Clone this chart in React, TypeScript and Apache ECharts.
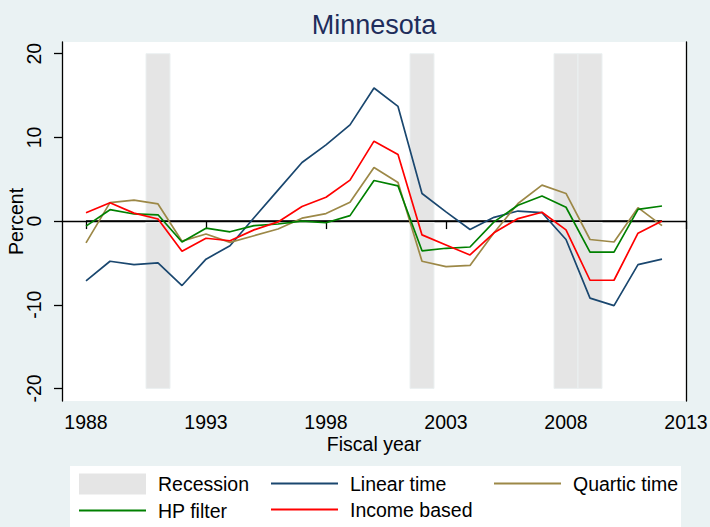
import React, { useEffect, useRef } from "react";
import * as echarts from "echarts";

const years = [1988, 1989, 1990, 1991, 1992, 1993, 1994, 1995, 1996, 1997, 1998, 1999, 2000, 2001, 2002, 2003, 2004, 2005, 2006, 2007, 2008, 2009, 2010, 2011, 2012];
const linearTime = [-7.15, -4.8, -5.2, -5.0, -7.7, -4.55, -2.95, 0.4, 3.7, 7.0, 9.1, 11.5, 15.9, 13.7, 3.3, 1.1, -1.0, 0.45, 1.2, 1.0, -2.2, -9.2, -10.1, -5.2, -4.55];
const quarticTime = [-2.6, 2.2, 2.5, 2.05, -2.4, -1.55, -2.55, -1.75, -0.95, 0.35, 0.9, 2.25, 6.4, 4.6, -4.8, -5.45, -5.3, -1.4, 2.1, 4.3, 3.3, -2.2, -2.5, 1.6, -0.55];
const hpFilter = [-0.6, 1.36, 0.85, 0.75, -2.5, -0.85, -1.28, -0.55, -0.35, 0.0, -0.2, 0.65, 4.85, 4.2, -3.55, -3.25, -3.1, -0.1, 1.9, 3.0, 1.65, -3.7, -3.7, 1.4, 1.8];
const incomeBased = [1.0, 2.2, 0.95, 0.25, -3.6, -2.05, -2.35, -1.05, -0.1, 1.75, 2.85, 4.9, 9.55, 7.95, -1.65, -2.85, -4.05, -1.4, 0.3, 1.05, -1.05, -7.07, -7.07, -1.45, 0.0];
const zeroLine = [0, 0, 0, 0, 0, 0, 0, 0, 0, 0, 0, 0, 0, 0, 0, 0, 0, 0, 0, 0, 0, 0, 0, 0, 0];
const recessionYears = [1991, 2002, 2008, 2009];
const recessionHigh = [20, 20, 20, 20];
const recessionLow = [-20, -20, -20, -20];
const xTickLabels = [1988, 1993, 1998, 2003, 2008, 2013];
const yTickLabels = [-20, -10, 0, 10, 20];

const FONT = "'Liberation Sans', Arial, sans-serif";

export default function App() {
  const ref = useRef<HTMLDivElement>(null);
  useEffect(() => {
    document.body.style.margin = "0";
    const chart = echarts.init(ref.current!, null, { renderer: "svg" });
    const pair = (arr: number[]) => years.map((y, i) => [y, arr[i]]);
    const lineSeries = (name: string, arr: number[], color: string, width = 1.7) => ({
      name,
      type: "line",
      data: pair(arr),
      symbol: "none",
      lineStyle: { color, width },
      itemStyle: { color },
      z: 3,
    });
    const lineItem = (name: string) => ({ name, itemStyle: { opacity: 0 } });
    const legendCommon = {
      orient: "vertical",
      padding: 0,
      itemGap: 6,
      itemWidth: 67,
      itemHeight: 21,
      textStyle: { fontSize: 19.5, color: "#000", fontFamily: FONT, padding: [0, 0, 0, 7] },
    };
    chart.setOption({
      animation: false,
      backgroundColor: "#EAF2F3",
      textStyle: { fontFamily: FONT },
      title: {
        text: "Minnesota",
        left: 369,
        top: 6,
        textAlign: "center",
        textStyle: { fontSize: 27, fontWeight: "normal", color: "#1E2D5B", fontFamily: FONT },
      },
      graphic: [
        { type: "rect", shape: { x: 70, y: 466, width: 611, height: 70 }, style: { fill: "#fff" }, z: 0 },
      ],
      grid: {
        left: 62, right: 24, top: 42, bottom: 126,
        outerBoundsMode: "none", containLabel: false,
        show: true, backgroundColor: "#fff", borderWidth: 0,
      },
      xAxis: {
        type: "value",
        min: 1987,
        max: 2013,
        name: "Fiscal year",
        nameLocation: "middle",
        nameGap: 33,
        nameMoveOverlap: false,
        nameTextStyle: { fontSize: 19.5, color: "#000", fontFamily: FONT },
        axisLine: { show: true, lineStyle: { color: "#000", width: 1.3 } },
        axisTick: { show: true, length: 8, customValues: xTickLabels, lineStyle: { color: "#000", width: 1.3 } },
        axisLabel: {
          customValues: xTickLabels, fontSize: 19.5, color: "#000", margin: 11, fontFamily: FONT,
          formatter: (v: number) => String(v),
        },
        splitLine: { show: false },
      },
      yAxis: [
        {
          type: "value",
          min: -21.5,
          max: 21.4,
          name: "Percent",
          nameLocation: "middle",
          nameGap: 36,
          nameMoveOverlap: false,
          nameTextStyle: { fontSize: 19.5, color: "#000", fontFamily: FONT },
          axisLine: { show: true, lineStyle: { color: "#000", width: 1.3 } },
          axisTick: { show: true, length: 8, customValues: yTickLabels, lineStyle: { color: "#000", width: 1.3 } },
          axisLabel: {
            customValues: yTickLabels, rotate: 90, fontSize: 19.5, color: "#000", margin: 18, fontFamily: FONT,
            formatter: (v: number) => String(v),
          },
          splitLine: { show: false },
        },
        {
          type: "value",
          min: -21.5,
          max: 21.4,
          position: "right",
          axisLine: { show: true, lineStyle: { color: "#000", width: 1.3 } },
          axisTick: { show: false },
          axisLabel: { show: false },
          splitLine: { show: false },
        },
      ],
      legend: [
        { ...legendCommon, left: 78, top: 473.5, data: [{ name: "Recession", icon: "rect" }, lineItem("HP filter")] },
        { ...legendCommon, left: 270, top: 473.5, data: [lineItem("Linear time"), lineItem("Income based")] },
        { ...legendCommon, left: 493, top: 473.5, data: [lineItem("Quartic time")] },
      ],
      series: [
        {
          name: "Recession",
          type: "custom",
          data: recessionYears.map((y, i) => [y, recessionHigh[i], recessionLow[i]]),
          encode: { x: 0, y: [1, 2] },
          itemStyle: { color: "#E5E5E5" },
          z: 1,
          renderItem: (params: any, api: any) => {
            const x = api.value(0);
            const p1 = api.coord([x - 0.5, api.value(1)]);
            const p2 = api.coord([x + 0.5, api.value(2)]);
            return {
              type: "rect",
              shape: { x: p1[0], y: p1[1], width: p2[0] - p1[0], height: p2[1] - p1[1] },
              style: { fill: "#E5E5E5", stroke: "#EBF0F1", lineWidth: 1 },
            };
          },
        },
        {
          name: "zero",
          type: "line",
          data: pair(zeroLine),
          symbol: "none",
          lineStyle: { color: "#000", width: 1.7 },
          z: 2,
        },
        lineSeries("Linear time", linearTime, "#1A476F"),
        lineSeries("Quartic time", quarticTime, "#9C8847"),
        lineSeries("HP filter", hpFilter, "#008000"),
        lineSeries("Income based", incomeBased, "#FF0000"),
      ],
    });
    return () => chart.dispose();
  }, []);
  return <div ref={ref} style={{ width: 710, height: 527 }} />;
}
